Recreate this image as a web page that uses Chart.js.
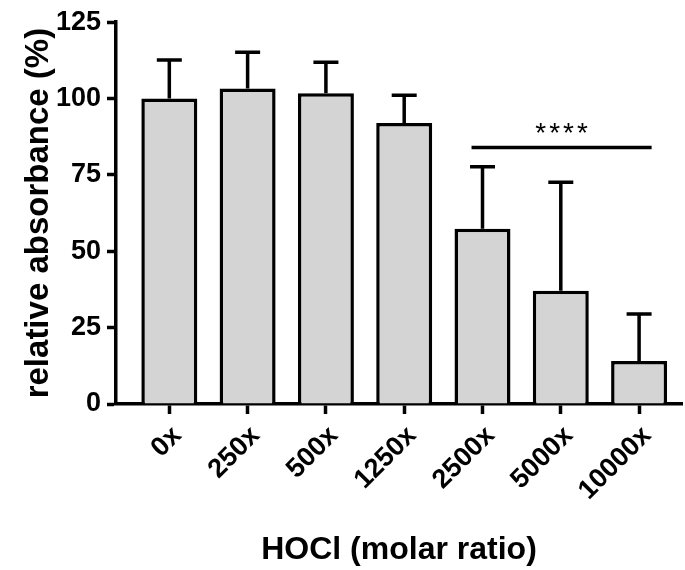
<!DOCTYPE html>
<html>
<head>
<meta charset="utf-8">
<script src="https://cdn.jsdelivr.net/npm/chart.js@4.4.1/dist/chart.umd.min.js"></script>
<style>
    body { margin: 0; background: #fff; }
    canvas { display: block; }
</style>
</head>
<body>
<canvas id="hocl-chart" width="685" height="570"></canvas>
<script>
// values (mean and upper SD)
const categories = ['0x', '250x', '500x', '1250x', '2500x', '5000x', '10000x'];
const means = [100, 103.3, 101.7, 92.0, 57.4, 37.1, 14.1];
const sd = [12.6, 11.9, 10.2, 9.1, 20.3, 35.5, 15.4];
const yTicks = [0, 25, 50, 75, 100, 125];

// significance bar: from / to (category index), height, label
const sigFrom = 3.86;
const sigTo = 6.16;
const sigY = 84;
const sigLabel = '****';

const fontFamily = '"Liberation Sans", Arial, Helvetica, sans-serif';

const errorBars = {
    id: 'errorBars',
    afterDatasetsDraw(chart) {
        const ctx = chart.ctx;
        const yScale = chart.scales.y;
        const meta = chart.getDatasetMeta(0);
        ctx.save();
        ctx.strokeStyle = '#000';
        ctx.lineWidth = 3.5;
        meta.data.forEach(function(bar, i) {
            let yBar = yScale.getPixelForValue(means[i]);
            let yTop = yScale.getPixelForValue(means[i] + sd[i]);
            ctx.beginPath();
            ctx.moveTo(bar.x, yBar);
            ctx.lineTo(bar.x, yTop);
            ctx.moveTo(bar.x - 12.5, yTop);
            ctx.lineTo(bar.x + 12.5, yTop);
            ctx.stroke();
        });

        // significance line + stars
        const xScale = chart.scales.x;
        let x1 = xScale.getPixelForValue(sigFrom);
        let x2 = xScale.getPixelForValue(sigTo);
        let y = yScale.getPixelForValue(sigY);
        ctx.beginPath();
        ctx.moveTo(x1, y);
        ctx.lineTo(x2, y);
        ctx.stroke();

        ctx.fillStyle = '#000';
        ctx.font = '28px ' + fontFamily;
        ctx.letterSpacing = '3px';
        ctx.textAlign = 'center';
        ctx.textBaseline = 'alphabetic';
        ctx.fillText(sigLabel, (x1 + x2) / 2 + 1.5, y - 5);
        ctx.restore();
    }
};

new Chart(document.getElementById('hocl-chart'), {
    type: 'bar',
    data: {
        datasets: [{
            data: means.map((v, i) => ({x: i, y: v})),
            backgroundColor: '#d4d4d4',
            borderColor: '#000',
            borderWidth: 3.5,
            borderSkipped: 'bottom',
            barPercentage: 0.715,
            categoryPercentage: 1
        }]
    },
    options: {
        responsive: false,
        animation: false,
        layout: {
            padding: {top: 20, right: 3, left: 0, bottom: 0}
        },
        plugins: {
            legend: {display: false},
            tooltip: {enabled: false}
        },
        scales: {
            x: {
                type: 'linear',
                offset: false,
                min: -0.681,
                max: 6.548,
                afterBuildTicks: function(scale) {
                    scale.ticks = categories.map((c, i) => ({value: i}));
                },
                afterFit: function(scale) {
                    scale.height = 166;
                },
                ticks: {
                    autoSkip: false,
                    minRotation: 45,
                    maxRotation: 45,
                    padding: 6,
                    labelOffset: 8,
                    color: '#000',
                    font: {family: fontFamily, size: 27, weight: 'bold'},
                    callback: function(value) {
                        return categories[value];
                    }
                },
                grid: {
                    offset: false,
                    drawOnChartArea: false,
                    drawTicks: true,
                    tickLength: 10,
                    tickWidth: 3.5,
                    tickColor: '#000'
                },
                border: {color: '#000', width: 3.5},
                title: {
                    display: true,
                    text: 'HOCl (molar ratio)',
                    color: '#000',
                    font: {family: fontFamily, size: 32, weight: 'bold'},
                    padding: {top: 0, bottom: 1}
                }
            },
            y: {
                min: 0,
                max: 125,
                afterBuildTicks: function(scale) {
                    scale.ticks = yTicks.map(v => ({value: v}));
                },
                afterFit: function(scale) {
                    scale.width = 116;
                },
                ticks: {
                    padding: 6,
                    color: '#000',
                    font: {family: fontFamily, size: 27, weight: 'bold'}
                },
                grid: {
                    drawOnChartArea: false,
                    drawTicks: true,
                    tickLength: 9,
                    tickWidth: 3.5,
                    tickColor: '#000'
                },
                border: {color: '#000', width: 3.5},
                title: {
                    display: true,
                    text: 'relative absorbance (%)',
                    color: '#000',
                    font: {family: fontFamily, size: 33, weight: 'bold'},
                    padding: {top: 19, bottom: 0}
                }
            }
        }
    },
    plugins: [errorBars]
});
</script>
</body>
</html>
